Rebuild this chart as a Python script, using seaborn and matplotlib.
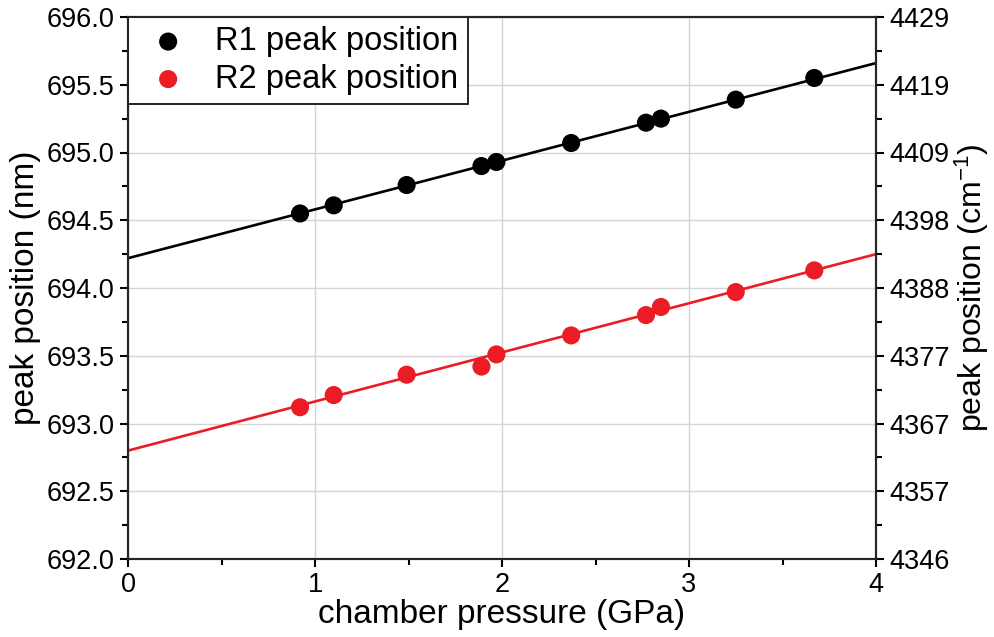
import numpy as np
import pandas as pd
import matplotlib
matplotlib.use("Agg")
import matplotlib.pyplot as plt
import seaborn as sns
from matplotlib.ticker import MultipleLocator, FixedLocator, FixedFormatter

# ---- data ----
pressure = [0.92, 1.10, 1.49, 1.89, 1.97, 2.37, 2.77, 2.85, 3.25, 3.67]
r1_pos = [694.55, 694.61, 694.76, 694.90, 694.93, 695.07, 695.22, 695.25, 695.39, 695.55]
r2_pos = [693.12, 693.21, 693.36, 693.42, 693.51, 693.65, 693.80, 693.86, 693.97, 694.13]
fit_x = [0.0, 4.0]
r1_fit = [694.22, 695.66]
r2_fit = [692.80, 694.25]
left_ticks = [692.0, 692.5, 693.0, 693.5, 694.0, 694.5, 695.0, 695.5, 696.0]
right_labels = ["4346", "4357", "4367", "4377", "4388", "4398", "4409", "4419", "4429"]
x_ticks = [0, 1, 2, 3, 4]

RED = "#EC1C24"
BLACK = "#000000"

sns.set_style("ticks")
plt.rcParams["font.family"] = ["Liberation Sans", "DejaVu Sans"]
plt.rcParams["mathtext.fontset"] = "custom"
plt.rcParams["mathtext.rm"] = "Liberation Sans"
plt.rcParams["mathtext.it"] = "Liberation Sans"
plt.rcParams["text.color"] = "black"
plt.rcParams["axes.labelcolor"] = "black"
plt.rcParams["xtick.color"] = "black"
plt.rcParams["ytick.color"] = "black"

fig = plt.figure(figsize=(9.94, 6.37), dpi=100)
ax = fig.add_axes([128/994, 1 - 559/637, (876 - 128)/994, (559 - 17)/637])

df1 = pd.DataFrame({"x": pressure, "y": r1_pos})
df2 = pd.DataFrame({"x": pressure, "y": r2_pos})
dfit1 = pd.DataFrame({"x": fit_x, "y": r1_fit})
dfit2 = pd.DataFrame({"x": fit_x, "y": r2_fit})

sns.lineplot(data=dfit1, x="x", y="y", ax=ax, color=BLACK, lw=1.9, zorder=3)
sns.lineplot(data=dfit2, x="x", y="y", ax=ax, color=RED, lw=1.9, zorder=3)
sns.scatterplot(data=df1, x="x", y="y", ax=ax, color=BLACK, s=170, edgecolor="none",
                label="R1 peak position", zorder=4)
sns.scatterplot(data=df2, x="x", y="y", ax=ax, color=RED, s=170, edgecolor="none",
                label="R2 peak position", zorder=4)

ax.set_xlim(0, 4)
ax.set_ylim(692.0, 696.0)
ax.xaxis.set_major_locator(FixedLocator(x_ticks))
ax.xaxis.set_minor_locator(MultipleLocator(0.5))
ax.yaxis.set_major_locator(FixedLocator(left_ticks))
ax.yaxis.set_minor_locator(MultipleLocator(0.25))
ax.set_yticklabels([f"{v:.1f}" for v in left_ticks])
ax.grid(True, which="major", color="#d4d4d4", lw=1.0)
ax.set_axisbelow(True)

for sp in ax.spines.values():
    sp.set_linewidth(1.5)
    sp.set_color("black")
    sp.set_visible(True)

ax.tick_params(axis="both", which="major", direction="out", length=6, width=1.5,
               labelsize=19.5, colors="black", top=False, right=False)
ax.tick_params(axis="both", which="minor", direction="out", length=4.5, width=1.5,
               top=False, right=False)
ax.tick_params(axis="x", pad=3)

ax.set_xlabel("chamber pressure (GPa)", fontsize=24, labelpad=1)
ax.set_ylabel("peak position (nm)", fontsize=24, labelpad=4)

leg = ax.legend(loc="upper left", fontsize=23.5, frameon=True, fancybox=False,
                edgecolor="black", framealpha=1, borderaxespad=0, handletextpad=0.5,
                borderpad=0.28, labelspacing=0.2, handlelength=1.9, markerscale=1.0)
leg.get_frame().set_linewidth(1.2)
for t in leg.get_texts():
    t.set_color("black")

ax2 = ax.twinx()
ax2.set_ylim(692.0, 696.0)
ax2.yaxis.set_major_locator(FixedLocator(left_ticks))
ax2.yaxis.set_major_formatter(FixedFormatter(right_labels))
ax2.yaxis.set_minor_locator(MultipleLocator(0.25))
ax2.tick_params(axis="y", which="major", direction="out", length=6, width=1.5,
                labelsize=19.5, colors="black")
ax2.tick_params(axis="y", which="minor", direction="out", length=4.5, width=1.5)
for sp in ax2.spines.values():
    sp.set_linewidth(1.5)
ax2.set_ylabel("peak position (cm$^{-1}$)", fontsize=23, labelpad=2)
ax2.grid(False)

fig.savefig("out.png", dpi=100)
